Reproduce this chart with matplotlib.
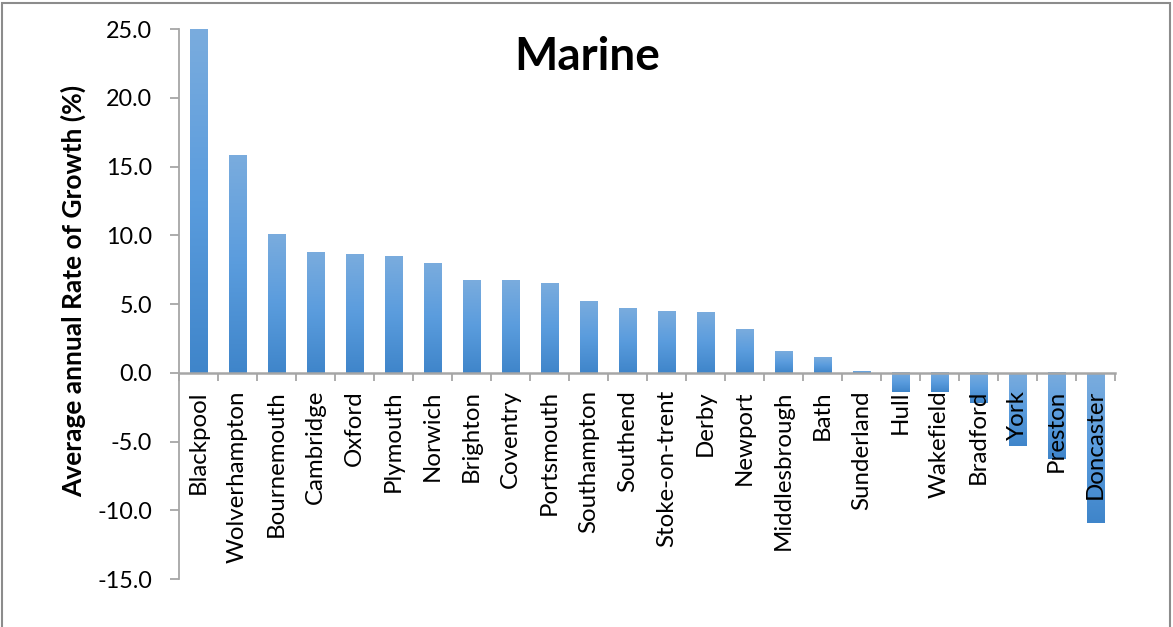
import numpy as np
import matplotlib.pyplot as plt
from matplotlib.colors import LinearSegmentedColormap
from matplotlib.patches import Rectangle

cities = ["Blackpool", "Wolverhampton", "Bournemouth", "Cambridge", "Oxford",
          "Plymouth", "Norwich", "Brighton", "Coventry", "Portsmouth",
          "Southampton", "Southend", "Stoke-on-trent", "Derby", "Newport",
          "Middlesbrough", "Bath", "Sunderland", "Hull", "Wakefield",
          "Bradford", "York", "Preston", "Doncaster"]
growth = [25.0, 15.8, 10.1, 8.8, 8.65, 8.5, 8.0, 6.75, 6.7, 6.5,
          5.2, 4.7, 4.5, 4.4, 3.2, 1.6, 1.1, 0.1, -1.4, -1.4,
          -2.2, -5.3, -6.3, -10.9]
y_ticks = [-15, -10, -5, 0, 5, 10, 15, 20, 25]
title = "Marine"
y_label = "Average annual Rate of Growth (%)"

plt.rcParams['font.family'] = ['Lato', 'DejaVu Sans']

W, H = 1173, 627
fig = plt.figure(figsize=(W / 100, H / 100), dpi=100)
ax = fig.add_axes([179 / W, 1 - 579 / H, (1115 - 179) / W, (579 - 29) / H])

x = np.arange(len(cities))
bars = ax.bar(x, growth, width=0.45, color='none', edgecolor='none')

# vertical gradient fill for each bar: lighter at the top, deeper at the bottom
grad = np.linspace(0, 1, 256).reshape(-1, 1)
cmap = LinearSegmentedColormap.from_list('bar', ['#7AACDE', '#5A9CDD', '#3F85CA'])
for b in bars:
    x0, w = b.get_x(), b.get_width()
    y0, h = b.get_y(), b.get_height()
    lo, hi = min(y0, y0 + h), max(y0, y0 + h)
    ax.imshow(grad, cmap=cmap, extent=(x0, x0 + w, lo, hi), origin='upper',
              aspect='auto', interpolation='bilinear', zorder=2)

ax.set_xlim(-0.5, len(cities) - 0.5)
ax.set_ylim(y_ticks[0], y_ticks[-1])
ax.set_aspect('auto')

axis_grey = '#A6A6A6'
for side in ('top', 'right'):
    ax.spines[side].set_visible(False)
ax.spines['left'].set_color(axis_grey)
ax.spines['left'].set_linewidth(1.3)
ax.spines['bottom'].set_position(('data', 0))
ax.spines['bottom'].set_color(axis_grey)
ax.spines['bottom'].set_linewidth(1.8)

ax.set_yticks(y_ticks)
ax.set_yticklabels([f"{v:.1f}" for v in y_ticks])
ax.tick_params(axis='y', direction='out', length=6.5, width=1.3, color=axis_grey,
               pad=13, labelsize=16.8, labelcolor='#000000')
ax.set_xticks(np.arange(len(cities) + 1) - 0.5)
ax.set_xticklabels([])
ax.tick_params(axis='x', direction='out', length=6, width=1.3, color=axis_grey)

for xi, name in zip(x, cities):
    ax.annotate(name, xy=(xi, 0), xytext=(0, -12.5), textcoords='offset points',
                rotation=90, ha='center', va='top', fontsize=17.3,
                color='#000000', zorder=5, annotation_clip=False)

fig.text(587 / W, 1 - 70 / H, title, ha='center', va='baseline',
         fontsize=33, fontweight='bold')
fig.text(73 / W, 1 - 291 / H, y_label, ha='center', va='center', rotation=90,
         fontsize=19, fontweight='bold')

# outer chart border
fig.patches.append(Rectangle((2 / W, -0.05), (1170 - 2) / W, 1.05 - 3 / H,
                             transform=fig.transFigure, fill=False,
                             edgecolor='#8C8C8C', linewidth=1.5))

fig.savefig('out.png', dpi=100)
